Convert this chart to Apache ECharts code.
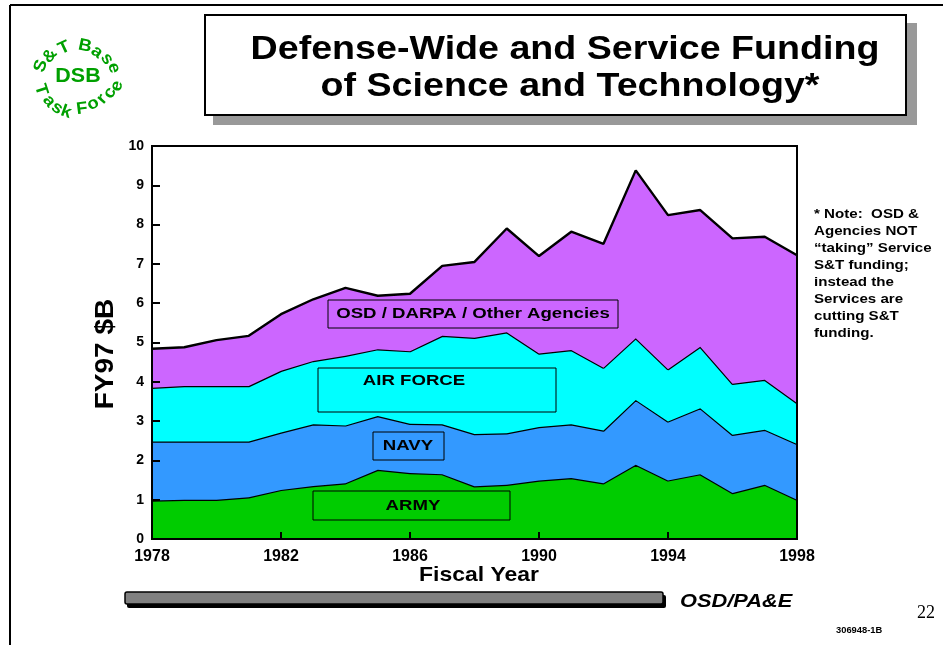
<!DOCTYPE html>
<html>
<head>
<meta charset="utf-8">
<script src="https://cdn.jsdelivr.net/npm/echarts@6/dist/echarts.min.js"></script>
<style>
html,body{margin:0;padding:0;background:#fff;}
#chart{width:943px;height:645px;}
</style>
</head>
<body>
<div id="chart"></div>
<script>
var years = ['1978','1979','1980','1981','1982','1983','1984','1985','1986','1987','1988','1989','1990','1991','1992','1993','1994','1995','1996','1997','1998'];
var army     = [0.98,1.00,1.00,1.06,1.25,1.35,1.42,1.76,1.68,1.65,1.34,1.38,1.49,1.55,1.42,1.89,1.49,1.65,1.17,1.38,1.00];
var navy     = [1.50,1.48,1.48,1.42,1.46,1.57,1.47,1.37,1.25,1.27,1.33,1.31,1.36,1.37,1.34,1.65,1.50,1.68,1.48,1.40,1.42];
var airForce = [1.37,1.41,1.41,1.41,1.57,1.61,1.77,1.70,1.85,2.25,2.45,2.57,1.87,1.89,1.60,1.57,1.33,1.56,1.30,1.27,1.04];
var osd      = [0.99,0.99,1.17,1.28,1.44,1.57,1.73,1.36,1.46,1.78,1.93,2.64,2.48,3.01,3.15,4.27,3.92,3.48,3.70,3.64,3.76];
var seriesNames = ['ARMY','NAVY','AIR FORCE','OSD / DARPA / Other Agencies'];
var seriesColors = ['#00CC00','#3399FF','#00FFFF','#CC66FF'];
var titleLines = ['Defense-Wide and Service Funding','of Science and Technology*'];
var noteLines = ['* Note:  OSD &','Agencies NOT','\u201Ctaking\u201D Service','S&T funding;','instead the','Services are','cutting S&T','funding.'];
var yAxisTitle = 'FY97 $B';
var xAxisTitle = 'Fiscal Year';
var logoTop = 'S&TBase';
var logoMid = 'DSB';
var logoBottom = 'TaskForce';

var FONT = 'Arial, "Liberation Sans", sans-serif';
var chart = echarts.init(document.getElementById('chart'));

var allData = [army, navy, airForce, osd];
var series = allData.map(function(d,i){
  return {
    name: seriesNames[i], type:'line', stack:'total', data: d,
    showSymbol:false, symbol:'none',
    lineStyle:{color:'#000', width:2.4},
    areaStyle:{color:seriesColors[i], opacity:1},
    z: 2 + i
  };
});

var graphics = [];
function T(text, x, y, font, o){
  o = o || {};
  graphics.push({type:'text', x:x, y:y, z:o.z||50, rotation:o.rot||0, scaleX:o.sx||1,
    style:{text:text, x:0, y:0, align:o.align||'left', verticalAlign:'middle', font:font, fill:o.fill||'#000'}});
}
// page border lines
graphics.push({type:'line', shape:{x1:10,y1:5,x2:943,y2:5}, style:{stroke:'#000', lineWidth:2}});
graphics.push({type:'line', shape:{x1:10,y1:5,x2:10,y2:645}, style:{stroke:'#000', lineWidth:2}});
// title box shadow and box
graphics.push({type:'rect', shape:{x:213,y:23,width:704,height:102}, style:{fill:'#999'}});
graphics.push({type:'rect', shape:{x:205,y:15,width:701,height:100}, style:{fill:'#fff', stroke:'#000', lineWidth:2}});
T(titleLines[0], 565, 50, 'bold 33px '+FONT, {align:'center', sx:1.14});
T(titleLines[1], 570, 87, 'bold 33px '+FONT, {align:'center', sx:1.14});
// note text
noteLines.forEach(function(t,i){
  T(t, 814, 214+i*17.1, 'bold 13.5px '+FONT, {sx:1.12});
});
// axis titles
T(yAxisTitle, 106, 354, 'bold 25px '+FONT, {align:'center', rot:Math.PI/2, sx:1.12});
T(xAxisTitle, 479, 575, 'bold 20.5px '+FONT, {align:'center', sx:1.12});
// label boxes
var boxes = [
  {x:328,y:300,w:290,h:28,tx:473,ty:314,t:seriesNames[3]},
  {x:318,y:368,w:238,h:44,tx:414,ty:381,t:seriesNames[2]},
  {x:373,y:432,w:71,h:28,tx:408,ty:446,t:seriesNames[1]},
  {x:313,y:491,w:197,h:29,tx:413,ty:506,t:seriesNames[0]}
];
boxes.forEach(function(b){
  graphics.push({type:'rect', z:100, shape:{x:b.x,y:b.y,width:b.w,height:b.h}, style:{fill:'none', stroke:'#000', lineWidth:1}});
  T(b.t, b.tx, b.ty, 'bold 15.5px '+FONT, {align:'center', sx:1.2, z:101});
});
// gray bar with shadow
graphics.push({type:'rect', shape:{x:127,y:595,width:539,height:13, r:2}, style:{fill:'#000'}});
graphics.push({type:'rect', shape:{x:125,y:592,width:538,height:12, r:2}, style:{fill:'#808080', stroke:'#000', lineWidth:1.5}});
T('OSD/PA&E', 680, 602, 'italic bold 18.5px '+FONT, {sx:1.18});
T('22', 917, 613, '18px "Liberation Serif", "DejaVu Serif", serif', {});
T('306948-1B', 836, 631, 'bold 8.5px '+FONT, {sx:1.1});

// logo
var cx = 78, cy = 78;
var topPos = [[41,66],[50,56],[64,48],[85,46],[97,52],[107,59],[114,68]];
var botPos = [[41,90],[49,101],[57,108],[66,112],[82,109],[93,104],[102,99],[110,93],[117,86]];
var LOGO_COLOR = '#00A000';
logoTop.split('').forEach(function(ch,i){
  var p = topPos[i];
  var th = Math.atan2(-(p[1]-cy), p[0]-cx);
  T(ch, p[0], p[1], 'bold 17px '+FONT, {align:'center', rot: th - Math.PI/2, fill:LOGO_COLOR, sx:1.08});
});
logoBottom.split('').forEach(function(ch,i){
  var p = botPos[i];
  var th = Math.atan2(-(p[1]-cy), p[0]-cx);
  T(ch, p[0], p[1], 'bold 17px '+FONT, {align:'center', rot: th + Math.PI/2, fill:LOGO_COLOR, sx:1.08});
});
T(logoMid, 78, 77, 'bold 19.5px '+FONT, {align:'center', fill:LOGO_COLOR, sx:1.1});

var option = {
  animation:false,
  backgroundColor:'#fff',
  grid:{left:152, right:146, top:146, bottom:106, show:true, borderColor:'#000', borderWidth:2, backgroundColor:'transparent', z:10},
  xAxis:{
    type:'category', data:years, boundaryGap:false,
    axisLine:{show:true, lineStyle:{color:'#000', width:2}},
    axisTick:{show:true, inside:true, length:7, interval:3, lineStyle:{color:'#000', width:2}},
    axisLabel:{color:'#000', fontFamily:FONT, fontWeight:'bold', fontSize:16, margin:10, interval:3},
    splitLine:{show:false}, z:10
  },
  yAxis:{
    type:'value', min:0, max:10, interval:1,
    axisLine:{show:true, lineStyle:{color:'#000', width:2}},
    axisTick:{show:true, inside:true, length:8, lineStyle:{color:'#000', width:2}},
    axisLabel:{color:'#000', fontFamily:FONT, fontWeight:'bold', fontSize:14, margin:8},
    splitLine:{show:false}, z:10
  },
  series: series,
  graphic: graphics
};
chart.setOption(option);
</script>
</body>
</html>
